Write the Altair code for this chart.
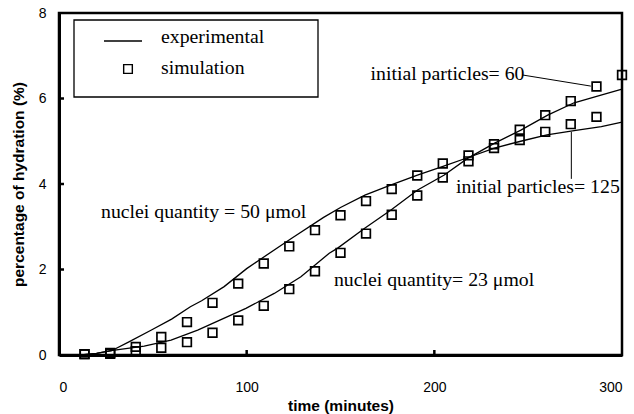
import altair as alt
import pandas as pd

# Simulation points (squares), two runs
sim_a_x = [13.6, 27.3, 40.9, 54.5, 68.2, 81.8, 95.5, 109.1, 122.7, 136.4, 150.0,
           163.6, 177.3, 190.9, 204.5, 218.2, 231.8, 245.5, 259.1, 272.7, 286.4]
sim_a_y = [0.02, 0.05, 0.19, 0.42, 0.77, 1.22, 1.67, 2.14, 2.54, 2.92, 3.27,
           3.60, 3.88, 4.20, 4.48, 4.53, 4.84, 5.03, 5.22, 5.40, 5.57]
sim_b_x = [13.6, 27.3, 40.9, 54.5, 68.2, 81.8, 95.5, 109.1, 122.7, 136.4, 150.0,
           163.6, 177.3, 190.9, 204.5, 218.2, 231.8, 245.5, 259.1, 272.7, 286.4, 300.0]
sim_b_y = [0.02, 0.03, 0.09, 0.17, 0.30, 0.52, 0.81, 1.15, 1.54, 1.96, 2.39,
           2.84, 3.28, 3.73, 4.15, 4.67, 4.93, 5.27, 5.61, 5.94, 6.28, 6.55]

# Experimental curves
exp_a_x = [12, 20, 28, 37, 49, 60, 70, 76, 88, 100, 106, 124, 141, 150, 163,
           177, 191, 205, 218, 232, 246, 260, 274.5, 289, 300]
exp_a_y = [0.0, 0.04, 0.10, 0.30, 0.58, 0.84, 1.13, 1.27, 1.60, 2.02, 2.20, 2.73,
           3.22, 3.45, 3.74, 3.98, 4.21, 4.42, 4.62, 4.84, 5.00, 5.15, 5.25, 5.34, 5.45]
exp_b_x = [12, 20, 27.7, 45.4, 59.7, 73.9, 86, 99.6, 114.7, 128.9, 144, 148.5,
           162.7, 176.9, 191.1, 205.3, 217.7, 231.9, 246.1, 260.4, 274.5, 288.8, 300]
exp_b_y = [0.0, 0.04, 0.10, 0.21, 0.35, 0.58, 0.82, 1.09, 1.44, 1.83, 2.38, 2.50,
           2.96, 3.39, 3.86, 4.21, 4.60, 4.95, 5.26, 5.61, 5.90, 6.08, 6.22]

# Annotation labels
note_text = ["nuclei quantity = 50 μmol", "nuclei quantity= 23 μmol",
             "initial particles= 60", "initial particles= 125"]
note_x = [22.4, 146.5, 166.0, 211.5]
note_y = [3.35, 1.75, 6.57, 3.92]

# Leader lines from labels to points
lead_x = [247.0, 273.0]
lead_y = [6.55, 5.22]
lead_x2 = [283.4, 273.0]
lead_y2 = [6.29, 4.12]

x_ticks = [0, 100, 200, 300]
y_ticks = [0, 2, 4, 6, 8]

W, H = 563, 342
SERIF = "Liberation Serif"
SANS = "Liberation Sans"
FS = 19.8

exp_df = pd.concat([
    pd.DataFrame({"t": exp_a_x, "h": exp_a_y, "run": "a"}),
    pd.DataFrame({"t": exp_b_x, "h": exp_b_y, "run": "b"}),
])
sim_df = pd.concat([
    pd.DataFrame({"t": sim_a_x, "h": sim_a_y, "run": "a"}),
    pd.DataFrame({"t": sim_b_x, "h": sim_b_y, "run": "b"}),
])
note_df = pd.DataFrame({"label": note_text, "t": note_x, "h": note_y})
lead_df = pd.DataFrame({"t": lead_x, "h": lead_y, "t2": lead_x2, "h2": lead_y2})

xs = alt.Scale(domain=[0, 300], nice=False)
ys = alt.Scale(domain=[0, 8], nice=False)

x_axis = alt.Axis(values=x_ticks, title="time (minutes)", ticks=False,
                  labelPadding=25, titlePadding=4, domainWidth=3)
y_axis = alt.Axis(values=y_ticks, title="percentage of hydration (%)", ticks=False,
                  labelPadding=13, titlePadding=12, domainWidth=3)

lines = alt.Chart(exp_df).mark_line(color="black", strokeWidth=1.3).encode(
    x=alt.X("t:Q", scale=xs, axis=x_axis),
    y=alt.Y("h:Q", scale=ys, axis=y_axis),
    detail="run:N",
)

points = alt.Chart(sim_df).mark_point(
    shape="square", filled=False, color="black", size=75, strokeWidth=1.7, opacity=1
).encode(x=alt.X("t:Q", scale=xs), y=alt.Y("h:Q", scale=ys))

notes = alt.Chart(note_df).mark_text(
    align="left", baseline="middle", font=SERIF, fontSize=FS, color="black"
).encode(x=alt.X("t:Q", scale=xs), y=alt.Y("h:Q", scale=ys), text="label:N")

leads = alt.Chart(lead_df).mark_rule(color="black", strokeWidth=1).encode(
    x=alt.X("t:Q", scale=xs), y=alt.Y("h:Q", scale=ys), x2="t2:Q", y2="h2:Q"
)

# inward tick marks
xtick_df = pd.DataFrame({"t": [100, 200]})
xticks = alt.Chart(xtick_df).mark_rule(color="black", strokeWidth=2.5).encode(
    x=alt.X("t:Q", scale=xs), y=alt.value(H), y2=alt.value(H - 5)
)
ytick_df = pd.DataFrame({"h": [2, 4, 6]})
yticks = alt.Chart(ytick_df).mark_rule(color="black", strokeWidth=2.5).encode(
    y=alt.Y("h:Q", scale=ys), x=alt.value(0), x2=alt.value(5)
)

# legend box
leg = pd.DataFrame({"k": [0]})
leg_box = alt.Chart(leg).mark_rect(fill="white", stroke="black", strokeWidth=1.3).encode(
    x=alt.value(15), x2=alt.value(259), y=alt.value(7), y2=alt.value(84)
)
leg_line = alt.Chart(leg).mark_rule(color="black", strokeWidth=1.3).encode(
    x=alt.value(45), x2=alt.value(83), y=alt.value(28)
)
leg_sq = alt.Chart(leg).mark_point(
    shape="square", filled=False, color="black", size=75, strokeWidth=1.4, opacity=1
).encode(x=alt.value(69), y=alt.value(56))
leg_txt1 = alt.Chart(leg).mark_text(
    align="left", baseline="middle", font=SERIF, fontSize=FS, color="black", text="experimental"
).encode(x=alt.value(102), y=alt.value(24))
leg_txt2 = alt.Chart(leg).mark_text(
    align="left", baseline="middle", font=SERIF, fontSize=FS, color="black", text="simulation"
).encode(x=alt.value(102), y=alt.value(55))

chart = alt.layer(
    lines, points, leads, notes, xticks, yticks,
    leg_box, leg_line, leg_sq, leg_txt1, leg_txt2,
).properties(
    width=W, height=H, autosize="none",
    padding={"left": 59, "top": 13, "right": 12, "bottom": 59},
    background="white",
).configure_view(
    stroke="black", strokeWidth=2.5
).configure_axis(
    grid=False, domainColor="black",
    labelFont=SANS, labelFontSize=14, labelColor="black",
    titleFont=SANS, titleFontSize=15.5, titleFontWeight="bold", titleColor="black",
)

chart.save("out.html", embed_options={"renderer": "svg", "actions": False})
